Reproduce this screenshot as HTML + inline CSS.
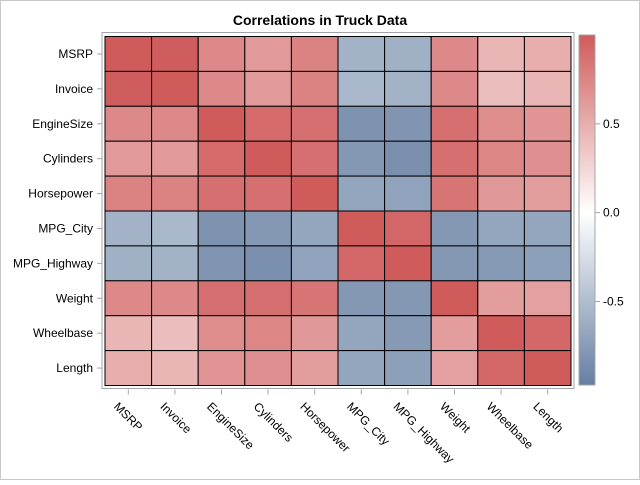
<!DOCTYPE html>
<html><head><meta charset="utf-8"><style>
body{margin:0;background:#fff;}
svg text{font-family:"Liberation Sans",Arial,sans-serif;}
</style></head><body>
<svg id="chart" width="640" height="480" viewBox="0 0 640 480" xmlns="http://www.w3.org/2000/svg">
<rect x="0.5" y="0.5" width="639" height="479" fill="#fff" stroke="#c8c8c8"/>
<text x="320" y="25" text-anchor="middle" font-size="14" font-weight="bold" fill="#000">Correlations in Truck Data</text>
<g id="cells"></g>
<g id="labels"></g>
<g id="legend"></g>
</svg>
<script>
const variables = ["MSRP","Invoice","EngineSize","Cylinders","Horsepower","MPG_City","MPG_Highway","Weight","Wheelbase","Length"];
const row0 = [1, 0.99, 0.72, 0.62, 0.76, -0.58, -0.6, 0.72, 0.45, 0.5];
const row1 = [0.99, 1, 0.72, 0.62, 0.76, -0.54, -0.58, 0.72, 0.4, 0.45];
const row2 = [0.72, 0.72, 1, 0.9, 0.88, -0.82, -0.8, 0.88, 0.7, 0.65];
const row3 = [0.62, 0.62, 0.9, 1, 0.87, -0.78, -0.84, 0.87, 0.74, 0.68];
const row4 = [0.76, 0.76, 0.88, 0.87, 1, -0.68, -0.7, 0.85, 0.63, 0.6];
const row5 = [-0.58, -0.54, -0.82, -0.78, -0.68, 1, 0.93, -0.78, -0.68, -0.68];
const row6 = [-0.6, -0.58, -0.8, -0.84, -0.7, 0.93, 1, -0.78, -0.77, -0.72];
const row7 = [0.72, 0.72, 0.88, 0.87, 0.85, -0.78, -0.78, 1, 0.6, 0.58];
const row8 = [0.45, 0.4, 0.7, 0.74, 0.63, -0.68, -0.77, 0.6, 1, 0.92];
const row9 = [0.5, 0.45, 0.65, 0.68, 0.6, -0.68, -0.72, 0.58, 0.92, 1];
const matrix = [row0,row1,row2,row3,row4,row5,row6,row7,row8,row9];
const colorMin = -0.97, colorMax = 1.0;
const legendTicks = [0.5, 0.0, -0.5];
const legendTickLabels = ["0.5","0.0","-0.5"];

const NS = "http://www.w3.org/2000/svg";
const gx0 = 105, gx1 = 571, gy0 = 36.5, gy1 = 385.5;
const cw = (gx1-gx0)/variables.length, ch = (gy1-gy0)/variables.length;
const xPos = i => gx0 + i*cw;
const yPos = i => gy0 + i*ch;
const hi = [208,91,91], lo = [102,127,162], mid=[255,255,255];
function color(v){
  let t, c;
  if(v>=0){t=Math.min(1,v/colorMax); c=hi;} else {t=Math.min(1,v/colorMin); c=lo;}
  const r=mid.map((m,k)=>Math.round(m+(c[k]-m)*t));
  return `rgb(${r[0]},${r[1]},${r[2]})`;
}
function mk(tag, attrs, parent){const e=document.createElementNS(NS,tag);for(const k in attrs)e.setAttribute(k,attrs[k]);parent.appendChild(e);return e;}
const svg=document.getElementById('chart');
const cells=document.getElementById('cells');
const labels=document.getElementById('labels');
const legend=document.getElementById('legend');

const frame=mk('rect',{x:gx0-3,y:gy0-4,width:gx1-gx0+6,height:gy1-gy0+7,fill:'none',stroke:'#a0a4a8'},cells);



matrix.forEach((row,r)=>{
  row.forEach((v,c)=>{
    const e=mk('rect',{x:xPos(c),y:yPos(r),width:cw,height:ch,fill:color(v),stroke:'#000','stroke-width':1},cells);
    
    
  });
});

variables.forEach((name,i)=>{
  const cy=yPos(i)+ch/2;
  const t=mk('line',{x1:gx0-8,x2:gx0-3,y1:cy,y2:cy,stroke:'#a0a4a8'},labels);
  
  
  const tx=mk('text',{x:gx0-12,y:cy+4,'text-anchor':'end','font-size':12,fill:'#000'},labels);
  tx.textContent=name;
  
  
  const cx=xPos(i)+cw/2;
  const t2=mk('line',{x1:cx,x2:cx,y1:gy1+4,y2:gy1+9,stroke:'#a0a4a8'},labels);
  
  
  const lx=cx-9, ly=401;
  const tx2=mk('text',{x:lx,y:ly,'font-size':12,fill:'#000','dominant-baseline':'hanging',transform:`rotate(45 ${lx} ${ly})`},labels);
  tx2.textContent=name;
  
  
});

const lx0=579, lx1=595, ly0=35, ly1=385;
const lY = v => ly0 + (colorMax - v)/(colorMax-colorMin)*(ly1-ly0);
const defs=mk('defs',{},svg);
const grad=mk('linearGradient',{id:'lg',x1:0,y1:0,x2:0,y2:1},defs);
mk('stop',{offset:'0',"stop-color":color(colorMax)},grad);
mk('stop',{offset:String((colorMax)/(colorMax-colorMin)),"stop-color":color(0)},grad);
mk('stop',{offset:'1',"stop-color":color(colorMin)},grad);
const lb=mk('rect',{x:lx0,y:ly0,width:lx1-lx0,height:ly1-ly0,fill:'url(#lg)',stroke:'#a0a4a8'},legend);


legendTicks.forEach((v,i)=>{
  const y=lY(v);
  const t=mk('line',{x1:lx1,x2:lx1+5,y1:y,y2:y,stroke:'#a0a4a8'},legend);
  
  
  const tx=mk('text',{x:lx1+8,y:y+4,'font-size':12,fill:'#000'},legend);
  tx.textContent=legendTickLabels[i];
  
  
});
</script>
</body></html>
